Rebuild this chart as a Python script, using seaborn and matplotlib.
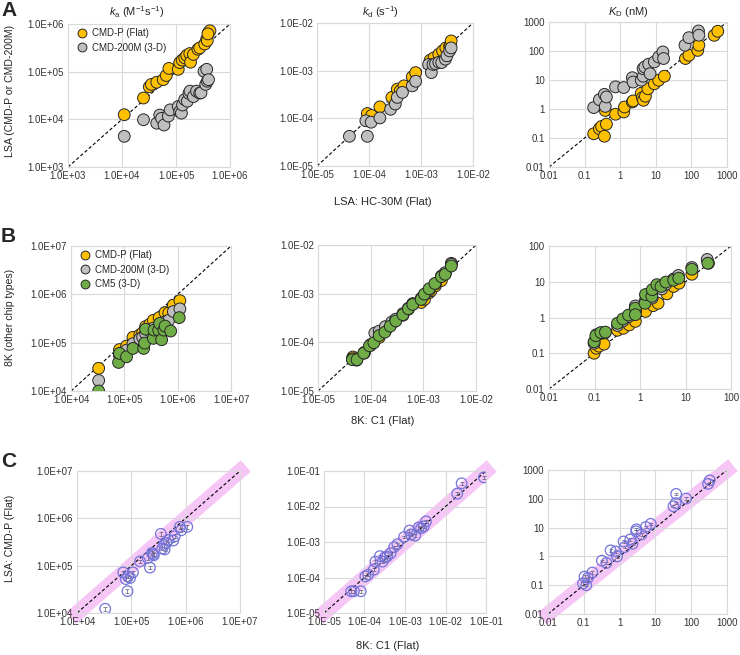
"""Comparison of binding kinetics across sensor chip types (log-log scatter grid)."""

import matplotlib

matplotlib.use("Agg")
import matplotlib.pyplot as plt
import numpy as np
import pandas as pd
import seaborn as sns
from matplotlib.ticker import FuncFormatter, LogLocator, NullFormatter

FIG_W, FIG_H, DPI = 740, 655, 100

ORANGE = "#FFC000"
GRAY = "#BFBFBF"
GREEN = "#70AD47"
EDGE = "#262626"
RING = "#7474D8"
BAND = "#F6C6F6"
GRID = "#D9D9D9"

# ---- Panel A: LSA, HC-30M (x) vs CMD-P / CMD-200M (y) ----
a_ka_flat_x = [1.1e4, 2.5e4, 3.2e4, 3.5e4, 4.4e4, 5.8e4, 6.6e4, 7.4e4, 1.1e5, 1.17e5, 1.3e5, 1.45e5,
               1.58e5, 1.8e5, 1.86e5, 2.1e5, 2.55e5, 2.75e5, 3.4e5, 3.7e5, 3.8e5, 4.0e5, 4.25e5, 3.9e5]
a_ka_flat_y = [1.25e4, 2.8e4, 4.8e4, 5.4e4, 6.0e4, 6.8e4, 8.3e4, 1.17e5, 1.12e5, 1.55e5, 1.75e5, 1.95e5,
               2.2e5, 2.4e5, 1.58e5, 2.3e5, 2.95e5, 3.15e5, 3.8e5, 4.8e5, 4.5e5, 6.6e5, 7.2e5, 6.2e5]
a_ka_3d_x = [1.1e4, 2.5e4, 4.4e4, 5.0e4, 5.4e4, 6.0e4, 7.2e4, 7.8e4, 1.1e5, 1.17e5, 1.26e5, 1.32e5,
             1.45e5, 1.62e5, 1.74e5, 1.82e5, 2.1e5, 2.4e5, 2.75e5, 2.9e5, 3.3e5, 3.55e5, 3.7e5, 3.8e5, 4.0e5]
a_ka_3d_y = [4.4e3, 9.8e3, 8.3e3, 1.23e4, 1.05e4, 7.6e3, 1.17e4, 1.58e4, 1.86e4, 1.45e4, 1.35e4, 2.0e4,
             2.6e4, 2.4e4, 3.5e4, 3.9e4, 3.0e4, 3.9e4, 3.55e4, 3.6e4, 1.02e5, 5.4e4, 1.12e5, 6.3e4, 6.8e4]

a_kd_flat_x = [9.3e-5, 1.12e-4, 1.62e-4, 2.75e-4, 3.5e-4, 4.0e-4, 4.7e-4, 6.8e-4, 7.9e-4, 1.5e-3, 1.78e-3,
               2.2e-3, 2.6e-3, 3.0e-3, 3.55e-3, 3.7e-3, 3.8e-3]
a_kd_flat_y = [1.26e-4, 1.15e-4, 1.74e-4, 2.75e-4, 4.1e-4, 3.8e-4, 4.8e-4, 7.4e-4, 9.1e-4, 1.66e-3, 1.86e-3,
               2.2e-3, 2.6e-3, 3.0e-3, 3.25e-3, 3.5e-3, 4.2e-3]
a_kd_3d_x = [4.2e-5, 9.3e-5, 8.7e-5, 1.1e-4, 1.62e-4, 2.6e-4, 3.2e-4, 3.5e-4, 4.4e-4, 6.8e-4, 7.9e-4,
             1.4e-3, 1.58e-3, 1.7e-3, 1.9e-3, 2.2e-3, 2.5e-3, 2.95e-3, 3.15e-3, 3.55e-3, 3.8e-3]
a_kd_3d_y = [4.2e-5, 4.2e-5, 8.9e-5, 8.3e-5, 1.02e-4, 1.55e-4, 2.0e-4, 2.75e-4, 3.5e-4, 4.8e-4, 6.0e-4,
             1.35e-3, 9.1e-4, 1.35e-3, 1.4e-3, 1.5e-3, 1.48e-3, 1.74e-3, 2.05e-3, 2.6e-3, 3.0e-3]

a_kD_flat_x = [0.18, 0.26, 0.30, 0.36, 0.41, 0.38, 0.74, 1.26, 1.32, 2.2, 2.3, 3.9, 4.2, 4.5, 5.1, 6.0,
               9.1, 12, 17.4, 68, 85, 151, 162, 437, 550]
a_kD_flat_y = [0.14, 0.21, 0.25, 0.115, 0.30, 0.89, 0.66, 0.79, 1.17, 1.75, 1.9, 3.5, 2.45, 2.0, 2.75, 5.0,
               7.4, 9.8, 13.5, 55, 71, 105, 158, 347, 479]
a_kD_3d_x = [0.18, 0.26, 0.36, 0.38, 0.41, 0.74, 1.26, 2.2, 2.3, 3.9, 4.4, 4.4, 4.9, 6.3, 6.9, 9.1,
             12, 15.8, 16.5, 66, 85, 158, 162]
a_kD_3d_y = [1.12, 2.1, 3.2, 1.23, 2.6, 5.8, 5.5, 12, 8.5, 9.8, 13.5, 24.5, 28, 35, 16.5, 42,
             62, 93, 55, 158, 288, 490, 350]

# ---- Panel B: 8K, C1 (x) vs CMD-P / CMD-200M / CM5 (y) ----
b_ka_x_flat = [3.3e4, 8.1e4, 1.1e5, 1.45e5, 1.95e5, 2.2e5, 2.5e5, 3.0e5, 3.5e5, 4.5e5, 5.8e5, 6.8e5,
               8.3e5, 1.1e6]
b_ka_y_flat = [2.95e4, 7.2e4, 8.5e4, 1.29e5, 1.45e5, 1.6e5, 2.15e5, 2.4e5, 2.9e5, 3.3e5, 4.2e5, 4.1e5,
               6.0e5, 7.4e5]
b_ka_x_cmd200 = [3.3e4, 8.1e4, 1.1e5, 1.45e5, 1.95e5, 2.2e5, 2.5e5, 3.0e5, 3.5e5, 4.5e5, 5.8e5, 6.8e5,
                 8.3e5, 1.1e6]
b_ka_y_cmd200 = [1.65e4, 5.5e4, 7.0e4, 9.5e4, 1.2e5, 1.3e5, 1.55e5, 1.75e5, 2.0e5, 2.3e5, 2.7e5, 2.9e5,
                 4.4e5, 5.0e5]
b_ka_x_cm5 = [3.3e4, 7.8e4, 8.1e4, 1.1e5, 1.45e5, 2.3e5, 2.4e5, 2.5e5, 3.5e5, 3.6e5, 4.4e5, 4.6e5,
              5.0e5, 5.5e5, 5.8e5, 7.4e5, 1.07e6]
b_ka_y_cm5 = [1.0e4, 3.9e4, 6.0e4, 5.1e4, 7.6e4, 7.6e4, 9.8e4, 1.9e5, 1.23e5, 1.82e5, 1.82e5, 2.5e5,
              1.15e5, 1.82e5, 2.2e5, 1.74e5, 3.3e5]

b_kd_x_flat = [4.6e-5, 5.2e-5, 7.6e-5, 1.0e-4, 1.45e-4, 1.9e-4, 2.5e-4, 3.0e-4, 4.1e-4, 5.2e-4, 6.3e-4,
               9.1e-4, 1.05e-3, 1.3e-3, 1.4e-3, 1.7e-3, 2.2e-3, 2.6e-3, 3.4e-3]
b_kd_y_flat = [5.0e-5, 4.6e-5, 6.2e-5, 8.7e-5, 1.26e-4, 1.7e-4, 2.4e-4, 2.9e-4, 3.6e-4, 4.8e-4, 6.2e-4,
               6.6e-4, 7.6e-4, 1.05e-3, 1.15e-3, 1.45e-3, 1.86e-3, 2.6e-3, 4.2e-3]
b_kd_x_cmd200 = [4.5e-5, 5.4e-5, 7.5e-5, 1.0e-4, 1.2e-4, 1.45e-4, 1.9e-4, 2.5e-4, 3.0e-4, 4.1e-4, 5.2e-4,
                 6.3e-4, 9.1e-4, 1.05e-3, 1.3e-3, 1.7e-3, 2.2e-3, 2.6e-3, 3.4e-3]
b_kd_y_cmd200 = [4.6e-5, 4.3e-5, 6.0e-5, 9.0e-5, 1.55e-4, 1.7e-4, 2.1e-4, 2.6e-4, 3.0e-4, 3.9e-4, 5.0e-4,
                 6.2e-4, 8.0e-4, 9.5e-4, 1.2e-3, 1.6e-3, 2.3e-3, 2.7e-3, 4.0e-3]
b_kd_x_cm5 = [4.5e-5, 5.5e-5, 7.4e-5, 9.5e-5, 1.15e-4, 1.45e-4, 1.86e-4, 2.35e-4, 3.0e-4, 4.1e-4, 5.2e-4,
              6.3e-4, 9.1e-4, 1.05e-3, 1.29e-3, 1.66e-3, 2.2e-3, 2.6e-3, 3.4e-3]
b_kd_y_cm5 = [4.4e-5, 4.4e-5, 6.0e-5, 8.5e-5, 9.8e-5, 1.38e-4, 1.62e-4, 2.15e-4, 2.75e-4, 3.7e-4, 4.9e-4,
              6.0e-4, 7.6e-4, 9.8e-4, 1.26e-3, 1.62e-3, 2.24e-3, 2.5e-3, 3.7e-3]

b_kD_x_flat = [0.098, 0.11, 0.126, 0.162, 0.32, 0.43, 0.58, 0.79, 1.32, 1.95, 2.5, 3.9, 5.5, 7.2, 13.8, 32]
b_kD_y_flat = [0.10, 0.138, 0.158, 0.18, 0.44, 0.5, 0.62, 0.78, 1.48, 2.15, 2.5, 4.6, 7.4, 9.1, 16.2, 33]
b_kD_x_cmd200 = [0.098, 0.11, 0.14, 0.17, 0.32, 0.42, 0.56, 0.79, 0.80, 1.3, 1.35, 1.85, 1.9, 2.4, 3.0,
                 3.7, 5.5, 7.0, 13.8, 30]
b_kD_y_cmd200 = [0.19, 0.33, 0.36, 0.37, 0.6, 0.8, 1.05, 2.1, 1.5, 2.9, 4.2, 3.5, 5.5, 7.6, 6.3,
                 8.5, 12, 15, 25, 42]
b_kD_x_cm5 = [0.098, 0.107, 0.138, 0.174, 0.32, 0.42, 0.56, 0.79, 0.79, 1.29, 1.32, 1.82, 1.86, 2.35, 2.9,
              3.7, 5.5, 7.1, 13.8, 31]
b_kD_y_cm5 = [0.21, 0.31, 0.38, 0.39, 0.69, 0.91, 1.17, 1.82, 1.2, 2.5, 4.4, 3.9, 6.0, 8.3, 7.4,
              9.8, 11, 12.6, 22.4, 33]

# ---- Panel C: 8K, C1 (x) vs LSA, CMD-P (y) ----
c_ka_x = [3.3e4, 8.5e4, 7.1e4, 7.9e4, 8.7e4, 9.5e4, 1.07e5, 1.45e5, 2.0e5, 2.2e5, 2.4e5, 2.5e5, 2.6e5,
          3.5e5, 3.7e5, 4.0e5, 4.1e5, 4.4e5, 4.8e5, 5.9e5, 6.3e5, 7.8e5, 8.3e5, 1.07e6]
c_ka_y = [1.23e4, 2.9e4, 7.2e4, 5.2e4, 5.9e4, 5.5e4, 7.2e4, 1.23e5, 1.45e5, 9.1e4, 1.86e5, 1.75e5, 1.66e5,
          4.7e5, 2.3e5, 2.75e5, 2.2e5, 3.0e5, 3.5e5, 3.4e5, 4.2e5, 6.6e5, 5.6e5, 6.6e5]
c_kd_x = [4.7e-5, 5.5e-5, 8.1e-5, 1.05e-4, 1.23e-4, 1.7e-4, 1.86e-4, 2.4e-4, 2.8e-4, 3.2e-4, 3.6e-4,
          4.4e-4, 5.4e-4, 6.5e-4, 9.5e-4, 1.29e-3, 1.41e-3, 1.78e-3, 2.2e-3, 2.5e-3, 2.9e-3, 3.3e-3,
          1.95e-2, 2.5e-2, 8.9e-2]
c_kd_y = [4.1e-5, 4.1e-5, 4.1e-5, 1.07e-4, 1.2e-4, 1.66e-4, 2.8e-4, 4.0e-4, 2.8e-4, 3.7e-4, 3.9e-4,
          4.8e-4, 7.2e-4, 8.7e-4, 1.38e-3, 2.1e-3, 1.62e-3, 1.51e-3, 2.6e-3, 2.45e-3, 2.75e-3, 3.8e-3,
          2.3e-2, 4.5e-2, 6.6e-2]
c_kD_x = [0.095, 0.105, 0.117, 0.13, 0.174, 0.32, 0.43, 0.56, 0.78, 0.85, 1.29, 1.38, 2.0, 2.3, 2.95,
          2.9, 4.1, 5.4, 7.4, 32, 38, 37, 72, 295, 330]
c_kD_y = [0.115, 0.2, 0.1, 0.18, 0.275, 0.71, 0.59, 1.62, 1.48, 1.0, 3.3, 2.1, 3.9, 2.75, 8.7,
          7.4, 5.8, 10.5, 13.5, 55, 148, 71, 102, 330, 437]
C_ERR_DEX = 0.04

CHIP_COLORS = {"CMD-P (Flat)": ORANGE, "CMD-200M (3-D)": GRAY, "CM5 (3-D)": GREEN}


def sci_fmt(v, pos):
    return f"{v:.1E}"


def plain_fmt(v, pos):
    return f"{v:g}"


def px_axes(fig, left, top, right, bottom):
    return fig.add_axes([left / FIG_W, 1 - bottom / FIG_H, (right - left) / FIG_W, (bottom - top) / FIG_H])


def fig_text(fig, x, y, s, **kw):
    fig.text(x / FIG_W, 1 - y / FIG_H, s, **kw)


def style_log_axes(ax, lo, hi, fmt):
    ax.set_xscale("log")
    ax.set_yscale("log")
    ax.set_xlim(10.0 ** lo, 10.0 ** hi)
    ax.set_ylim(10.0 ** lo, 10.0 ** hi)
    for axis in (ax.xaxis, ax.yaxis):
        axis.set_major_locator(LogLocator(base=10, numticks=20))
        axis.set_minor_locator(LogLocator(base=10, subs=np.arange(2, 10), numticks=20))
        axis.set_major_formatter(FuncFormatter(fmt))
        axis.set_minor_formatter(NullFormatter())
    ax.grid(True, which="major", color=GRID, linewidth=0.8)
    ax.set_axisbelow(True)
    ax.tick_params(which="major", length=0, labelsize=7, pad=3, colors="#333333")
    ax.tick_params(axis="x", which="minor", direction="in", length=3, color="#BFBFBF", width=0.6)
    ax.tick_params(axis="y", which="minor", direction="out", length=3, color="#BFBFBF", width=0.6)
    for spine in ax.spines.values():
        spine.set_color(GRID)
        spine.set_linewidth(0.8)
    ax.set_xlabel("")
    ax.set_ylabel("")


def diagonal(ax, lo, hi, band=False):
    ends = [10.0 ** lo, 10.0 ** hi]
    if band:
        # drawn under the axis artists so tick labels stay on top
        ax.plot(ends, ends, color=BAND, lw=11, solid_capstyle="projecting", clip_on=False, zorder=0.4)
    ax.plot(ends, ends, color="black", lw=0.8, ls=(0, (3, 2)), zorder=2)


def chip_panel(ax, series, lo, hi, fmt, legend=False):
    frames = [pd.DataFrame({"x": x, "y": y, "chip": name}) for name, x, y in series]
    df = pd.concat(frames, ignore_index=True)
    names = [name for name, _, _ in series]
    style_log_axes(ax, lo, hi, fmt)
    diagonal(ax, lo, hi)
    sns.scatterplot(data=df, x="x", y="y", hue="chip", hue_order=names,
                    palette={n: CHIP_COLORS[n] for n in names}, s=72, edgecolor=EDGE,
                    linewidth=0.7, alpha=1, ax=ax, legend=legend, zorder=3)
    ax.set_xlabel("")
    ax.set_ylabel("")
    if legend:
        old = ax.get_legend()
        handles = old.legend_handles
        labels = [t.get_text() for t in old.get_texts()]
        old.remove()
        ax.legend(handles, labels, loc="upper left", frameon=False, fontsize=7,
                  handletextpad=0.05, borderaxespad=0.15, labelspacing=0.45,
                  markerscale=0.75, borderpad=0.3)


def compare_panel(ax, x, y, lo, hi, fmt):
    style_log_axes(ax, lo, hi, fmt)
    diagonal(ax, lo, hi, band=True)
    y_arr = np.asarray(y)
    yerr = [y_arr * (1 - 10 ** -C_ERR_DEX), y_arr * (10 ** C_ERR_DEX - 1)]
    ax.errorbar(x, y, yerr=yerr, fmt="none", ecolor="#5A5A80", elinewidth=0.5, capsize=1.3,
                capthick=0.5, zorder=3)
    sns.scatterplot(x=x, y=y, ax=ax, s=58, facecolor="none", edgecolor=RING, linewidth=0.9, zorder=4)
    ax.set_xlabel("")
    ax.set_ylabel("")


def main():
    sns.set_style("white")
    plt.rcParams["font.family"] = ["Liberation Sans", "DejaVu Sans"]
    plt.rcParams["mathtext.fontset"] = "custom"
    plt.rcParams["mathtext.rm"] = "Liberation Sans"
    plt.rcParams["mathtext.it"] = "Liberation Sans:italic"

    fig = plt.figure(figsize=(FIG_W / DPI, FIG_H / DPI), dpi=DPI)

    # row A
    ax = px_axes(fig, 68, 24, 230, 167)
    chip_panel(ax, [("CMD-P (Flat)", a_ka_flat_x, a_ka_flat_y),
                    ("CMD-200M (3-D)", a_ka_3d_x, a_ka_3d_y)], 3, 6, sci_fmt, legend=True)
    ax = px_axes(fig, 317, 23, 473, 166)
    chip_panel(ax, [("CMD-P (Flat)", a_kd_flat_x, a_kd_flat_y),
                    ("CMD-200M (3-D)", a_kd_3d_x, a_kd_3d_y)], -5, -2, sci_fmt)
    ax = px_axes(fig, 549, 22, 727, 167)
    chip_panel(ax, [("CMD-P (Flat)", a_kD_flat_x, a_kD_flat_y),
                    ("CMD-200M (3-D)", a_kD_3d_x, a_kD_3d_y)], -2, 3, plain_fmt)

    # row B
    ax = px_axes(fig, 71, 246, 231, 391)
    chip_panel(ax, [("CMD-P (Flat)", b_ka_x_flat, b_ka_y_flat),
                    ("CMD-200M (3-D)", b_ka_x_cmd200, b_ka_y_cmd200),
                    ("CM5 (3-D)", b_ka_x_cm5, b_ka_y_cm5)], 4, 7, sci_fmt, legend=True)
    ax = px_axes(fig, 318, 245, 476, 391)
    chip_panel(ax, [("CMD-P (Flat)", b_kd_x_flat, b_kd_y_flat),
                    ("CMD-200M (3-D)", b_kd_x_cmd200, b_kd_y_cmd200),
                    ("CM5 (3-D)", b_kd_x_cm5, b_kd_y_cm5)], -5, -2, sci_fmt)
    ax = px_axes(fig, 549, 246, 731, 389)
    chip_panel(ax, [("CMD-P (Flat)", b_kD_x_flat, b_kD_y_flat),
                    ("CMD-200M (3-D)", b_kD_x_cmd200, b_kD_y_cmd200),
                    ("CM5 (3-D)", b_kD_x_cm5, b_kD_y_cm5)], -2, 2, plain_fmt)

    # row C
    compare_panel(px_axes(fig, 77, 471, 240, 613), c_ka_x, c_ka_y, 4, 7, sci_fmt)
    compare_panel(px_axes(fig, 324, 471, 486, 613), c_kd_x, c_kd_y, -5, -1, sci_fmt)
    compare_panel(px_axes(fig, 548, 470, 727, 614), c_kD_x, c_kD_y, -2, 3, plain_fmt)

    # panel letters, titles and axis labels
    for letter, top in (("A", 1), ("B", 227), ("C", 452)):
        fig_text(fig, 1, top, letter, fontsize=15, fontweight="bold", va="top", ha="left")
    fig_text(fig, 137, 12, r"$k_{\mathrm{a}}$ (M$^{-1}$s$^{-1}$)", fontsize=8, ha="center", va="center")
    fig_text(fig, 380, 12, r"$k_{\mathrm{d}}$ (s$^{-1}$)", fontsize=8, ha="center", va="center")
    fig_text(fig, 628, 12, r"$K_{\mathrm{D}}$ (nM)", fontsize=8, ha="center", va="center")

    fig_text(fig, 10, 91, "LSA (CMD-P or CMD-200M)", fontsize=7.6, rotation=90, ha="center", va="center")
    fig_text(fig, 10, 317, "8K (other chip types)", fontsize=7.6, rotation=90, ha="center", va="center")
    fig_text(fig, 10, 538, "LSA: CMD-P (Flat)", fontsize=7.6, rotation=90, ha="center", va="center")

    fig_text(fig, 383, 202, "LSA: HC-30M (Flat)", fontsize=8, ha="center", va="center")
    fig_text(fig, 383, 421, "8K: C1 (Flat)", fontsize=8, ha="center", va="center")
    fig_text(fig, 388, 646, "8K: C1 (Flat)", fontsize=8, ha="center", va="center")

    fig.savefig("out.png", dpi=DPI)
    plt.close(fig)


if __name__ == "__main__":
    main()
